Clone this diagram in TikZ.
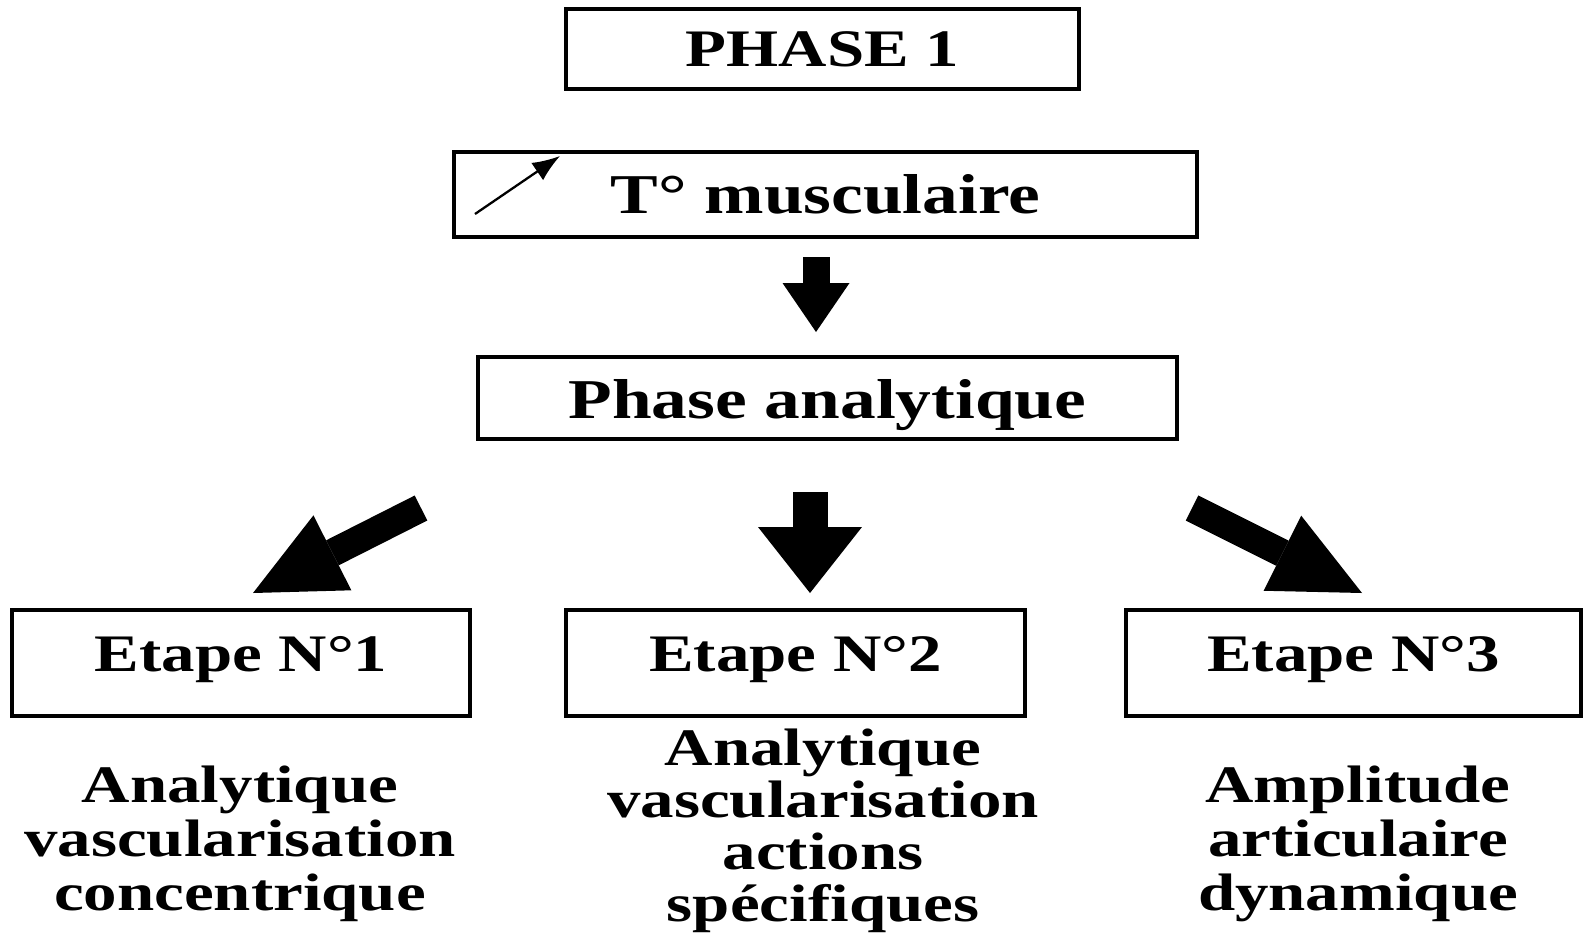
\documentclass[tikz,border=0pt]{standalone}
\usepackage{fontspec}
\setmainfont{Liberation Serif}[FakeStretch=1.27]
\usetikzlibrary{arrows.meta}

\begin{document}
\begin{tikzpicture}[x=0.02cm, y=-0.02cm, >=latex]
        % --- SETTINGS ---
        \tikzset{
            box/.style={draw, line width=2.2pt, inner sep=0pt, font=\fontsize{30}{31}\selectfont\bfseries},
            note/.style={align=center, inner sep=0pt, font=\fontsize{30}{30.7}\selectfont\bfseries},
            fat/.style={line width=0.70cm, -{Triangle[length=1.32cm, width=2.08cm, line width=0pt]}},
            fatdiag/.style={line width=0.56cm, -{Triangle[length=1.78cm, width=1.68cm, line width=0pt]}}
        }
        \useasboundingbox (0,0) rectangle (1583,934);

        % --- BOXES ---
        \node[box, minimum width=10.26cm, minimum height=1.60cm] (phase) at (822.5,49) {PHASE 1};
        \node[box, minimum width=14.86cm, minimum height=1.70cm, font=\fontsize{32}{33}\selectfont\bfseries] (temp) at (825.5,194.5) {T° musculaire};
        \node[box, minimum width=13.98cm, minimum height=1.64cm, font=\fontsize{32}{33}\selectfont\bfseries] (analyt) at (827.5,398) {\raisebox{-0.40cm}[0pt][0pt]{Phase analytique}};
        \node[box, minimum width=9.16cm, minimum height=2.12cm] (etape1) at (241,663) {\raisebox{-0.16cm}[0pt][0pt]{Etape N°1}};
        \node[box, minimum width=9.18cm, minimum height=2.12cm] (etape2) at (795.5,663) {\raisebox{-0.16cm}[0pt][0pt]{Etape N°2}};
        \node[box, minimum width=9.10cm, minimum height=2.12cm] (etape3) at (1353.5,663) {\raisebox{-0.16cm}[0pt][0pt]{Etape N°3}};

        % --- TEXTS UNDER THE STEPS ---
        \node[note] (txt1) at (240,844) {Analytique\\vascularisation\\concentrique};
        \node[note, font=\fontsize{30}{29.6}\selectfont\bfseries] (txt2) at (823,831) {Analytique\\vascularisation\\actions\\spécifiques};
        \node[note] (txt3) at (1358,844) {Amplitude\\articulaire\\dynamique};

        % --- ARROWS ---
        % small one inside the temperature box
        \coordinate (upS) at (475,214);
        \coordinate (upE) at (560,156);
        \draw[line width=1.3pt, -{Latex[length=0.55cm, width=0.42cm]}] (upS) -- (upE);

        % fat ones
        \coordinate (d0S) at (816,257);
        \coordinate (d0E) at (816,332);
        \draw[line width=0.54cm, -{Triangle[length=0.98cm, width=1.34cm, line width=0pt]}] (d0S) -- (d0E);

        \coordinate (d1S) at (421,508);
        \coordinate (d1E) at (253,593);
        \coordinate (d2S) at (810,492);
        \coordinate (d2E) at (810,593);
        \coordinate (d3S) at (1192,508);
        \coordinate (d3E) at (1362,593);
        \draw[fatdiag] (d1S) -- (d1E);
        \draw[fat] (d2S) -- (d2E);
        \draw[fatdiag] (d3S) -- (d3E);

    \end{tikzpicture}
\end{document}
